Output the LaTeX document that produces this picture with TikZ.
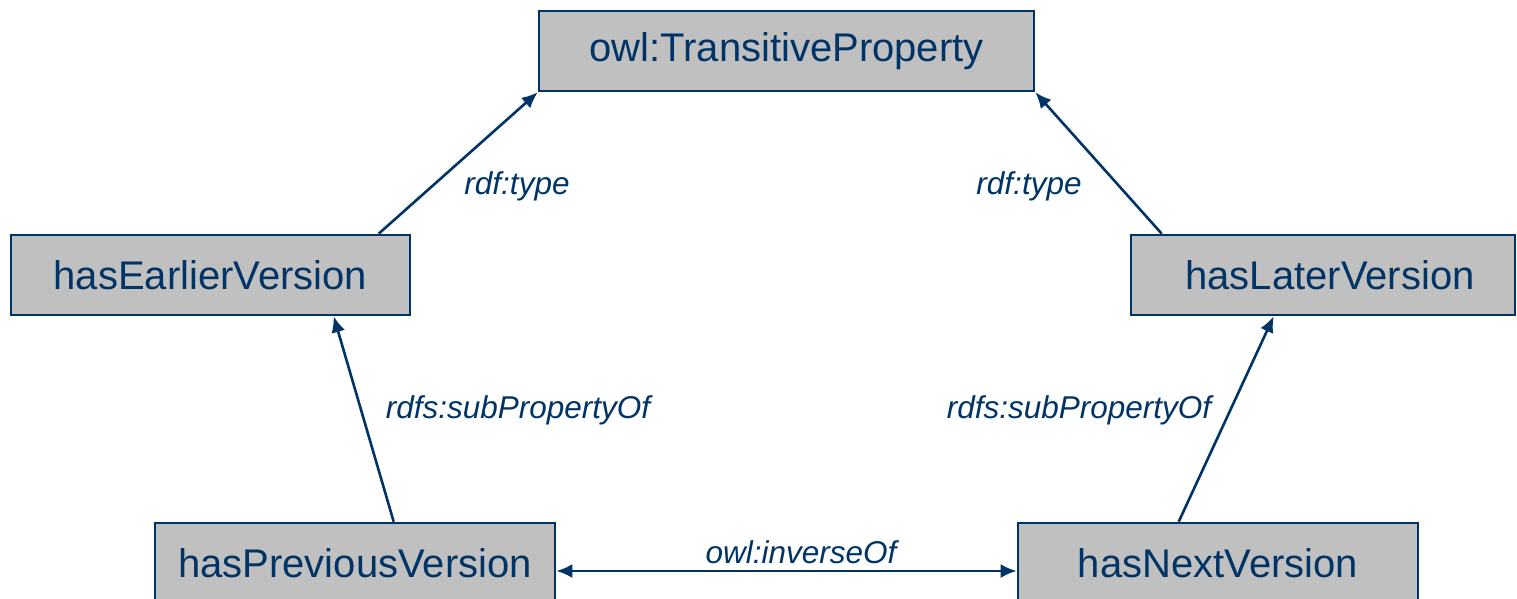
\documentclass[tikz,border=0pt]{standalone}
\usepackage{fontspec}
\setmainfont{Liberation Sans}
\usetikzlibrary{arrows.meta,calc}
\definecolor{navy}{RGB}{0,51,102}
\definecolor{boxgrey}{RGB}{192,192,192}
\tikzset{
  prop/.style={draw=navy, line width=2.6pt, fill=boxgrey, text=navy,
    font=\fontsize{40}{44}\selectfont, minimum height=80pt, inner sep=0pt},
  tip/.tip={Latex[length=16pt,width=14pt]},
  rel/.style={draw=navy, line width=2.6pt, -tip},
  lbl/.style={text=navy, font=\fontsize{31.5}{34}\selectfont\itshape, inner sep=0pt}
}
\begin{document}
\begin{tikzpicture}[x=1pt,y=-1pt]
\useasboundingbox (0,0) rectangle (1517,598);
\clip (0,0) rectangle (1517,598);
\node[prop, minimum width=495pt] (trans) at (786.5,51) {owl:TransitiveProperty};
\node[prop, minimum width=399pt] (earlier) at (210.5,275) {hasEarlierVersion};
\node[prop, minimum width=384pt, text width=384pt, align=center] (later) at (1323,275) {\hspace*{14pt}hasLaterVersion};
\node[prop, minimum width=400pt] (prev) at (355,563) {hasPreviousVersion};
\node[prop, minimum width=400pt] (next) at (1218,563) {hasNextVersion};

\draw[rel] ([xshift=369pt]earlier.north west) -- (trans.south west);
\draw[rel] ([xshift=32pt]later.north west) -- (trans.south east);
\draw[rel] ([xshift=240pt]prev.north west) -- ([xshift=324pt]earlier.south west);
\draw[rel] ([xshift=162pt]next.north west) -- ([xshift=144pt]later.south west);
\draw[rel, tip-tip] ([yshift=-8pt]prev.east) -- ([yshift=-8pt]next.west);

\node[lbl] (l1) at (517,186) {rdf:type};
\node[lbl] (l2) at (1029,186) {rdf:type};
\node[lbl] (l3) at (518,410) {rdfs:subPropertyOf};
\node[lbl] (l4) at (1079,410) {rdfs:subPropertyOf};
\node[lbl] (l5) at (801,552) {owl:inverseOf};
\end{tikzpicture}
\end{document}
